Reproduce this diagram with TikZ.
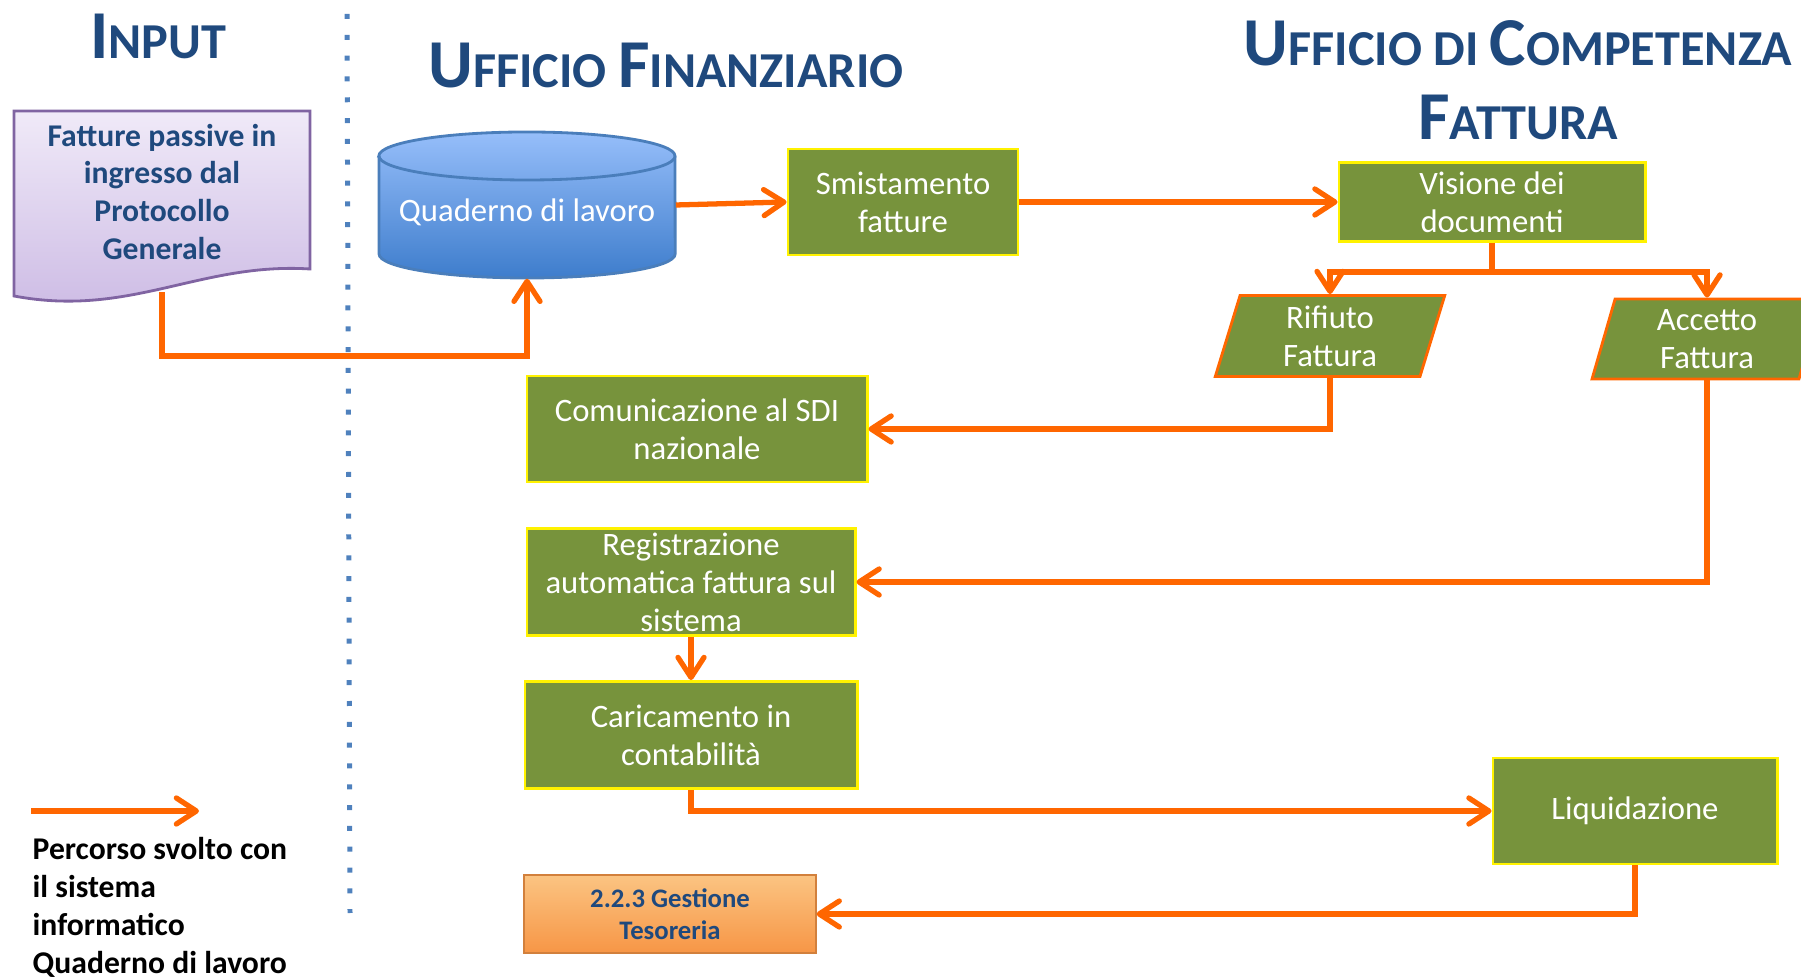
\documentclass[tikz,border=0pt]{standalone}
\usepackage{fontspec}
\setmainfont{Carlito}
\usetikzlibrary{arrows.meta,shapes.geometric}

\definecolor{titleblue}{RGB}{31,73,125}
\definecolor{boxgreen}{RGB}{119,147,60}
\definecolor{flowline}{RGB}{255,102,0}
\definecolor{dotblue}{RGB}{79,129,189}
\definecolor{lilactop}{RGB}{240,234,248}
\definecolor{lilacbot}{RGB}{204,186,228}
\definecolor{lilacedge}{RGB}{128,100,162}
\definecolor{dbtop}{RGB}{150,190,250}
\definecolor{dbbot}{RGB}{62,125,204}
\definecolor{dbedge}{RGB}{74,126,187}
\definecolor{tesotop}{RGB}{251,196,130}
\definecolor{tesobot}{RGB}{247,150,70}
\newcommand{\capletter}[1]{{\fontsize{19.5pt}{21pt}\selectfont #1}}

\begin{document}
\begin{tikzpicture}[x=0.01cm,y=-0.01cm,
    title/.style={text=titleblue,font=\bfseries\fontsize{14.3pt}{21pt}\selectfont,align=center},
    greenbox/.style={fill=boxgreen,draw=yellow,line width=0.8pt,text=white,align=center,
        font=\fontsize{9.3pt}{10.8pt}\selectfont,inner sep=0pt},
    choice/.style={trapezium,trapezium left angle=78,trapezium right angle=102,trapezium stretches=true,
        fill=boxgreen,draw=flowline,line width=0.8pt,text=white,align=center,
        font=\fontsize{9.3pt}{10.8pt}\selectfont,inner sep=0pt,minimum width=2.3cm},
    flow/.style={draw=flowline,line width=1.5pt,-{Straight Barb[length=2mm,width=2.6mm,round]}}]
    \useasboundingbox (0,0) rectangle (1801,977);

    % Titles and separator
    \node[title] (tin) at (158,36) {\capletter{I}NPUT};
    \node[title] (tfin) at (666,66) {\capletter{U}FFICIO \capletter{F}INANZIARIO};
    \node[title] (tcomp) at (1518,80) {\capletter{U}FFICIO DI \capletter{C}OMPETENZA\\\capletter{F}ATTURA};
    \draw[dotblue,line width=1.42pt,dash pattern=on 1.42pt off 4.5pt] (347,14) -- (350,913);

    % Input document
    \path[draw=lilacedge,line width=0.8pt,top color=lilactop,bottom color=lilacbot]
        (14,111) -- (310,111) -- (310,269) .. controls (200,262) and (130,318) .. (14,296) -- cycle;
    \node[text=titleblue,align=center,font=\bfseries\fontsize{9pt}{10.8pt}\selectfont] (fatture) at (162,192)
        {Fatture passive in\\ingresso dal\\Protocollo\\Generale};
    \coordinate (docout) at (162,292);

    % Database
    \path[draw=dbedge,line width=0.8pt,top color=dbtop,bottom color=dbbot]
        (379,156) -- (379,254) arc[start angle=180,end angle=360,x radius=1.48cm,y radius=0.24cm]
        -- (675,156) arc[start angle=0,end angle=180,x radius=1.48cm,y radius=0.24cm] -- cycle;
    \draw[dbedge,line width=0.8pt] (379,156) arc[start angle=180,end angle=360,x radius=1.48cm,y radius=0.24cm];
    \node[text=white,font=\fontsize{9.3pt}{10.8pt}\selectfont,minimum width=2.96cm,minimum height=1.46cm,inner sep=0pt]
        (quad) at (527,205) {\raisebox{-0.07cm}[\height][\depth]{Quaderno di lavoro}};

    % Process boxes
    \node[greenbox,minimum width=2.30cm,minimum height=1.06cm] (smist) at (903,202) {Smistamento\\fatture};
    \node[greenbox,minimum width=3.06cm,minimum height=0.79cm] (vis) at (1492,202) {Visione dei\\documenti};
    \node[choice,minimum height=0.81cm] (rif) at (1330,336) {Rifiuto\\Fattura};
    \node[choice,minimum height=0.80cm] (acc) at (1707,339) {Accetto\\Fattura};
    \node[greenbox,minimum width=3.40cm,minimum height=1.06cm] (com) at (697,429) {Comunicazione al SDI\\nazionale};
    \node[greenbox,minimum width=3.28cm,minimum height=1.07cm] (reg) at (691,582)
        {Registrazione\\automatica fattura sul\\sistema};
    \node[greenbox,minimum width=3.32cm,minimum height=1.07cm] (car) at (691,735) {Caricamento in\\contabilità};
    \node[greenbox,minimum width=2.84cm,minimum height=1.06cm] (liq) at (1635,811) {Liquidazione};
    \node[draw=tesobot!85!black,line width=0.6pt,top color=tesotop,bottom color=tesobot,text=titleblue,
        align=center,font=\bfseries\fontsize{7.6pt}{9.2pt}\selectfont,inner sep=0pt,
        minimum width=2.91cm,minimum height=0.78cm] (tes) at (670,914) {2.2.3 Gestione\\Tesoreria};

    % Connectors
    \draw[flow] (docout) -- ++(0,64) -| (quad.south);
    \draw[flow] (quad.east) -- (smist.west);
    \draw[flow] (smist.east) -- (vis.west);
    \draw[flow] (vis.south) -- ++(0,29) -| (rif.north);
    \draw[flow] (vis.south) -- ++(0,29) -| (acc.north);
    \draw[flow] (rif.south) |- (com.east);
    \draw[flow] (acc.south) |- (reg.east);
    \draw[flow] (reg.south) -- (car.north);
    \draw[flow] (car.south) |- (liq.west);
    \draw[flow] (liq.south) |- (tes.east);

    % Legend
    \coordinate (legfrom) at (31,811);
    \coordinate (legto) at (199,811);
    \draw[flow] (legfrom) -- (legto);
    \node[anchor=west,align=left,inner sep=0pt,font=\bfseries\fontsize{9pt}{10.8pt}\selectfont] (legend) at (32,907)
        {Percorso svolto con\\il sistema\\informatico\\Quaderno di lavoro};
\end{tikzpicture}
\end{document}
